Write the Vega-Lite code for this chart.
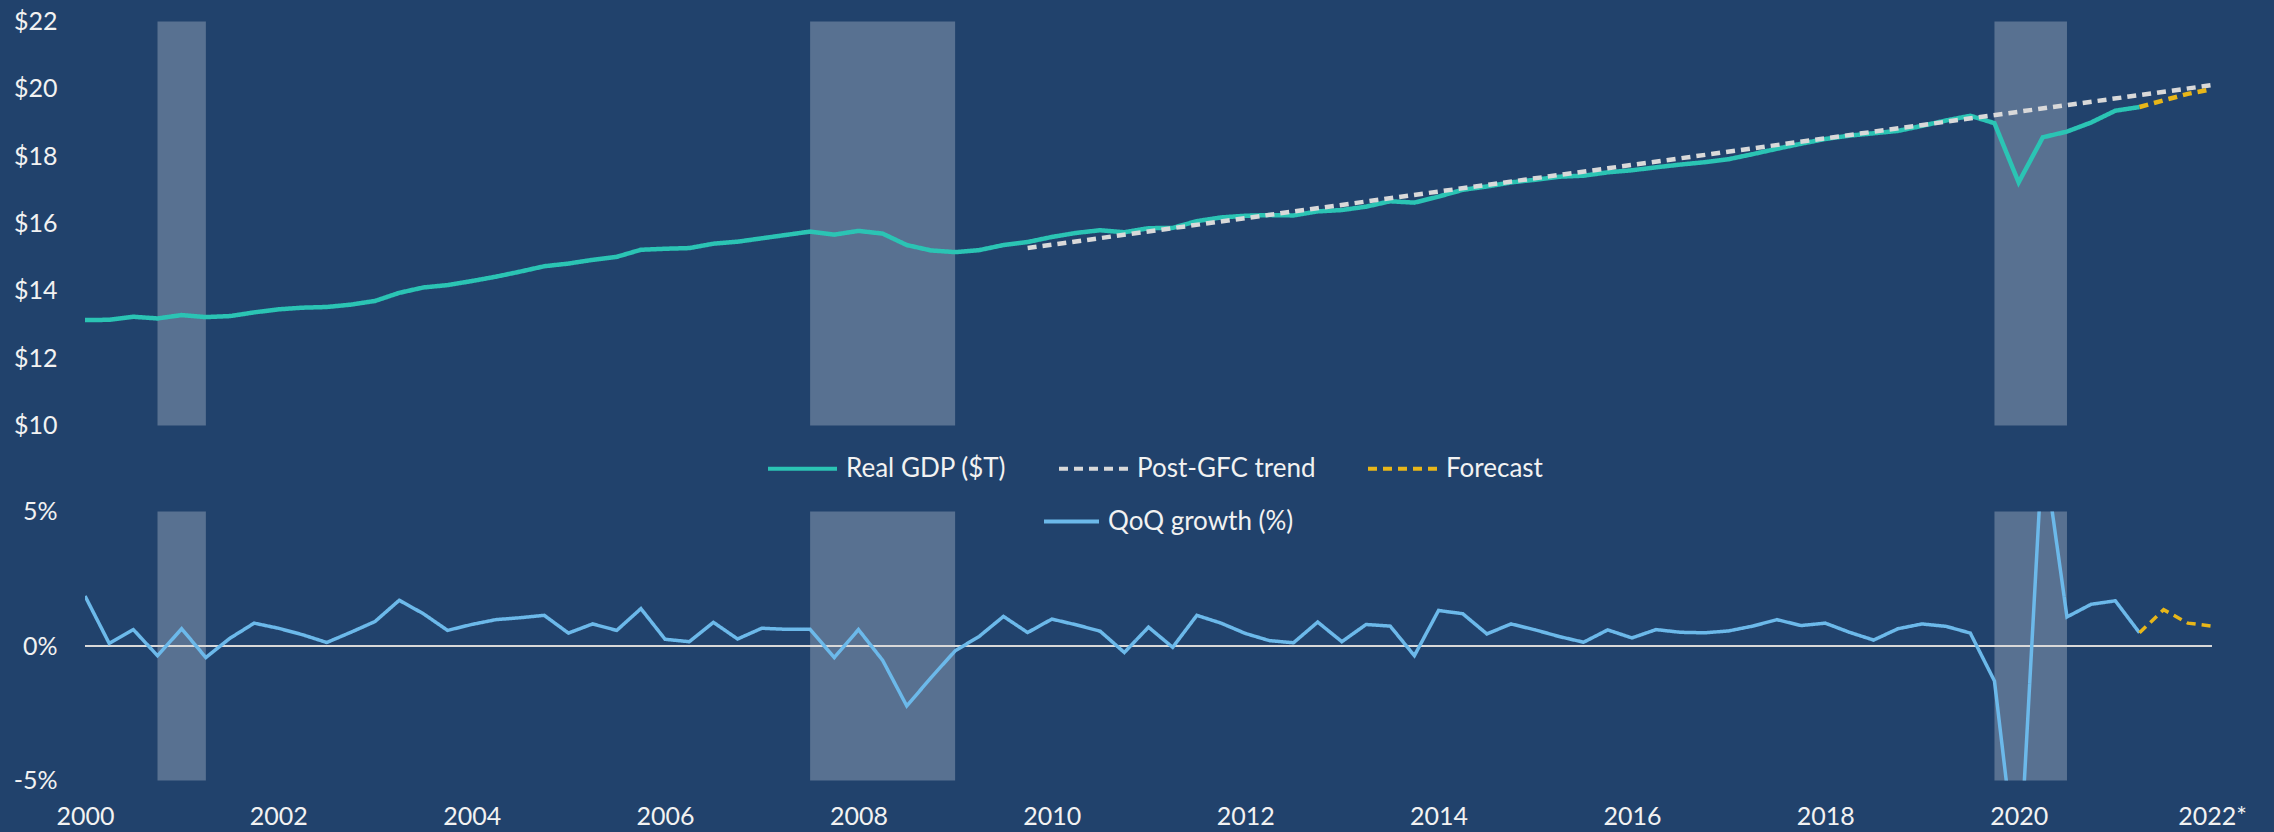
{
  "$schema": "https://vega.github.io/schema/vega-lite/v6.json",
  "background": "#21426C",
  "autosize": {"type": "pad"},
  "padding": {"left": 13, "top": 9.5, "right": 29, "bottom": 2},
  "config": {
    "view": {"stroke": null},
    "font": "Lato",
    "axis": {"domain": false, "ticks": false, "tickSize": 0, "grid": false, "labelFont": "Lato", "labelFontSize": 25, "labelColor": "#F2F2F2", "title": null},
    "legend": {"padding": 0, "labelFont": "Lato", "labelFontSize": 26, "labelColor": "#F2F2F2", "labelLimit": 0, "symbolType": "stroke", "symbolStrokeWidth": 4, "labelOffset": 7, "columnPadding": 44}
  },
  "datasets": {
    "rec": [
      {"start": 2000.75, "end": 2001.25},
      {"start": 2007.5, "end": 2009.0},
      {"start": 2019.75, "end": 2020.5}
    ],
    "gdp": [
      {"t": 2000, "v": 13.13, "s": "Real GDP ($T)"},
      {"t": 2000.25, "v": 13.14, "s": "Real GDP ($T)"},
      {"t": 2000.5, "v": 13.23, "s": "Real GDP ($T)"},
      {"t": 2000.75, "v": 13.18, "s": "Real GDP ($T)"},
      {"t": 2001, "v": 13.28, "s": "Real GDP ($T)"},
      {"t": 2001.25, "v": 13.22, "s": "Real GDP ($T)"},
      {"t": 2001.5, "v": 13.25, "s": "Real GDP ($T)"},
      {"t": 2001.75, "v": 13.36, "s": "Real GDP ($T)"},
      {"t": 2002, "v": 13.45, "s": "Real GDP ($T)"},
      {"t": 2002.25, "v": 13.50, "s": "Real GDP ($T)"},
      {"t": 2002.5, "v": 13.52, "s": "Real GDP ($T)"},
      {"t": 2002.75, "v": 13.59, "s": "Real GDP ($T)"},
      {"t": 2003, "v": 13.70, "s": "Real GDP ($T)"},
      {"t": 2003.25, "v": 13.94, "s": "Real GDP ($T)"},
      {"t": 2003.5, "v": 14.10, "s": "Real GDP ($T)"},
      {"t": 2003.75, "v": 14.17, "s": "Real GDP ($T)"},
      {"t": 2004, "v": 14.29, "s": "Real GDP ($T)"},
      {"t": 2004.25, "v": 14.42, "s": "Real GDP ($T)"},
      {"t": 2004.5, "v": 14.57, "s": "Real GDP ($T)"},
      {"t": 2004.75, "v": 14.73, "s": "Real GDP ($T)"},
      {"t": 2005, "v": 14.81, "s": "Real GDP ($T)"},
      {"t": 2005.25, "v": 14.92, "s": "Real GDP ($T)"},
      {"t": 2005.5, "v": 15.01, "s": "Real GDP ($T)"},
      {"t": 2005.75, "v": 15.22, "s": "Real GDP ($T)"},
      {"t": 2006, "v": 15.25, "s": "Real GDP ($T)"},
      {"t": 2006.25, "v": 15.27, "s": "Real GDP ($T)"},
      {"t": 2006.5, "v": 15.40, "s": "Real GDP ($T)"},
      {"t": 2006.75, "v": 15.46, "s": "Real GDP ($T)"},
      {"t": 2007, "v": 15.56, "s": "Real GDP ($T)"},
      {"t": 2007.25, "v": 15.66, "s": "Real GDP ($T)"},
      {"t": 2007.5, "v": 15.76, "s": "Real GDP ($T)"},
      {"t": 2007.75, "v": 15.67, "s": "Real GDP ($T)"},
      {"t": 2008, "v": 15.78, "s": "Real GDP ($T)"},
      {"t": 2008.25, "v": 15.70, "s": "Real GDP ($T)"},
      {"t": 2008.5, "v": 15.36, "s": "Real GDP ($T)"},
      {"t": 2008.75, "v": 15.20, "s": "Real GDP ($T)"},
      {"t": 2009, "v": 15.15, "s": "Real GDP ($T)"},
      {"t": 2009.25, "v": 15.21, "s": "Real GDP ($T)"},
      {"t": 2009.5, "v": 15.36, "s": "Real GDP ($T)"},
      {"t": 2009.75, "v": 15.45, "s": "Real GDP ($T)"},
      {"t": 2010, "v": 15.60, "s": "Real GDP ($T)"},
      {"t": 2010.25, "v": 15.72, "s": "Real GDP ($T)"},
      {"t": 2010.5, "v": 15.80, "s": "Real GDP ($T)"},
      {"t": 2010.75, "v": 15.74, "s": "Real GDP ($T)"},
      {"t": 2011, "v": 15.86, "s": "Real GDP ($T)"},
      {"t": 2011.25, "v": 15.87, "s": "Real GDP ($T)"},
      {"t": 2011.5, "v": 16.07, "s": "Real GDP ($T)"},
      {"t": 2011.75, "v": 16.18, "s": "Real GDP ($T)"},
      {"t": 2012, "v": 16.23, "s": "Real GDP ($T)"},
      {"t": 2012.25, "v": 16.25, "s": "Real GDP ($T)"},
      {"t": 2012.5, "v": 16.24, "s": "Real GDP ($T)"},
      {"t": 2012.75, "v": 16.36, "s": "Real GDP ($T)"},
      {"t": 2013, "v": 16.40, "s": "Real GDP ($T)"},
      {"t": 2013.25, "v": 16.50, "s": "Real GDP ($T)"},
      {"t": 2013.5, "v": 16.66, "s": "Real GDP ($T)"},
      {"t": 2013.75, "v": 16.62, "s": "Real GDP ($T)"},
      {"t": 2014, "v": 16.80, "s": "Real GDP ($T)"},
      {"t": 2014.25, "v": 17.00, "s": "Real GDP ($T)"},
      {"t": 2014.5, "v": 17.10, "s": "Real GDP ($T)"},
      {"t": 2014.75, "v": 17.22, "s": "Real GDP ($T)"},
      {"t": 2015, "v": 17.30, "s": "Real GDP ($T)"},
      {"t": 2015.25, "v": 17.39, "s": "Real GDP ($T)"},
      {"t": 2015.5, "v": 17.42, "s": "Real GDP ($T)"},
      {"t": 2015.75, "v": 17.52, "s": "Real GDP ($T)"},
      {"t": 2016, "v": 17.58, "s": "Real GDP ($T)"},
      {"t": 2016.25, "v": 17.67, "s": "Real GDP ($T)"},
      {"t": 2016.5, "v": 17.75, "s": "Real GDP ($T)"},
      {"t": 2016.75, "v": 17.82, "s": "Real GDP ($T)"},
      {"t": 2017, "v": 17.91, "s": "Real GDP ($T)"},
      {"t": 2017.25, "v": 18.06, "s": "Real GDP ($T)"},
      {"t": 2017.5, "v": 18.22, "s": "Real GDP ($T)"},
      {"t": 2017.75, "v": 18.37, "s": "Real GDP ($T)"},
      {"t": 2018, "v": 18.51, "s": "Real GDP ($T)"},
      {"t": 2018.25, "v": 18.61, "s": "Real GDP ($T)"},
      {"t": 2018.5, "v": 18.68, "s": "Real GDP ($T)"},
      {"t": 2018.75, "v": 18.75, "s": "Real GDP ($T)"},
      {"t": 2019, "v": 18.90, "s": "Real GDP ($T)"},
      {"t": 2019.25, "v": 19.06, "s": "Real GDP ($T)"},
      {"t": 2019.5, "v": 19.20, "s": "Real GDP ($T)"},
      {"t": 2019.75, "v": 18.98, "s": "Real GDP ($T)"},
      {"t": 2020, "v": 17.22, "s": "Real GDP ($T)"},
      {"t": 2020.25, "v": 18.56, "s": "Real GDP ($T)"},
      {"t": 2020.5, "v": 18.73, "s": "Real GDP ($T)"},
      {"t": 2020.75, "v": 19.00, "s": "Real GDP ($T)"},
      {"t": 2021, "v": 19.35, "s": "Real GDP ($T)"},
      {"t": 2021.25, "v": 19.46, "s": "Real GDP ($T)"},
      {"t": 2009.75, "v": 15.27, "s": "Post-GFC trend"},
      {"t": 2015.75, "v": 17.64, "s": "Post-GFC trend"},
      {"t": 2022, "v": 20.11, "s": "Post-GFC trend"},
      {"t": 2021.25, "v": 19.46, "s": "Forecast"},
      {"t": 2021.5, "v": 19.66, "s": "Forecast"},
      {"t": 2021.75, "v": 19.85, "s": "Forecast"},
      {"t": 2022, "v": 19.99, "s": "Forecast"}
    ],
    "growth": [
      {"t": 2000, "v": 1.86, "s": "QoQ growth (%)"},
      {"t": 2000.25, "v": 0.10, "s": "QoQ growth (%)"},
      {"t": 2000.5, "v": 0.61, "s": "QoQ growth (%)"},
      {"t": 2000.75, "v": -0.36, "s": "QoQ growth (%)"},
      {"t": 2001, "v": 0.64, "s": "QoQ growth (%)"},
      {"t": 2001.25, "v": -0.43, "s": "QoQ growth (%)"},
      {"t": 2001.5, "v": 0.29, "s": "QoQ growth (%)"},
      {"t": 2001.75, "v": 0.85, "s": "QoQ growth (%)"},
      {"t": 2002, "v": 0.66, "s": "QoQ growth (%)"},
      {"t": 2002.25, "v": 0.42, "s": "QoQ growth (%)"},
      {"t": 2002.5, "v": 0.13, "s": "QoQ growth (%)"},
      {"t": 2002.75, "v": 0.51, "s": "QoQ growth (%)"},
      {"t": 2003, "v": 0.91, "s": "QoQ growth (%)"},
      {"t": 2003.25, "v": 1.70, "s": "QoQ growth (%)"},
      {"t": 2003.5, "v": 1.20, "s": "QoQ growth (%)"},
      {"t": 2003.75, "v": 0.58, "s": "QoQ growth (%)"},
      {"t": 2004, "v": 0.80, "s": "QoQ growth (%)"},
      {"t": 2004.25, "v": 0.98, "s": "QoQ growth (%)"},
      {"t": 2004.5, "v": 1.05, "s": "QoQ growth (%)"},
      {"t": 2004.75, "v": 1.14, "s": "QoQ growth (%)"},
      {"t": 2005, "v": 0.48, "s": "QoQ growth (%)"},
      {"t": 2005.25, "v": 0.82, "s": "QoQ growth (%)"},
      {"t": 2005.5, "v": 0.58, "s": "QoQ growth (%)"},
      {"t": 2005.75, "v": 1.39, "s": "QoQ growth (%)"},
      {"t": 2006, "v": 0.25, "s": "QoQ growth (%)"},
      {"t": 2006.25, "v": 0.16, "s": "QoQ growth (%)"},
      {"t": 2006.5, "v": 0.88, "s": "QoQ growth (%)"},
      {"t": 2006.75, "v": 0.26, "s": "QoQ growth (%)"},
      {"t": 2007, "v": 0.66, "s": "QoQ growth (%)"},
      {"t": 2007.25, "v": 0.62, "s": "QoQ growth (%)"},
      {"t": 2007.5, "v": 0.62, "s": "QoQ growth (%)"},
      {"t": 2007.75, "v": -0.43, "s": "QoQ growth (%)"},
      {"t": 2008, "v": 0.61, "s": "QoQ growth (%)"},
      {"t": 2008.25, "v": -0.53, "s": "QoQ growth (%)"},
      {"t": 2008.5, "v": -2.23, "s": "QoQ growth (%)"},
      {"t": 2008.75, "v": -1.18, "s": "QoQ growth (%)"},
      {"t": 2009, "v": -0.18, "s": "QoQ growth (%)"},
      {"t": 2009.25, "v": 0.36, "s": "QoQ growth (%)"},
      {"t": 2009.5, "v": 1.10, "s": "QoQ growth (%)"},
      {"t": 2009.75, "v": 0.50, "s": "QoQ growth (%)"},
      {"t": 2010, "v": 1.00, "s": "QoQ growth (%)"},
      {"t": 2010.25, "v": 0.79, "s": "QoQ growth (%)"},
      {"t": 2010.5, "v": 0.55, "s": "QoQ growth (%)"},
      {"t": 2010.75, "v": -0.24, "s": "QoQ growth (%)"},
      {"t": 2011, "v": 0.70, "s": "QoQ growth (%)"},
      {"t": 2011.25, "v": -0.05, "s": "QoQ growth (%)"},
      {"t": 2011.5, "v": 1.14, "s": "QoQ growth (%)"},
      {"t": 2011.75, "v": 0.85, "s": "QoQ growth (%)"},
      {"t": 2012, "v": 0.47, "s": "QoQ growth (%)"},
      {"t": 2012.25, "v": 0.20, "s": "QoQ growth (%)"},
      {"t": 2012.5, "v": 0.12, "s": "QoQ growth (%)"},
      {"t": 2012.75, "v": 0.89, "s": "QoQ growth (%)"},
      {"t": 2013, "v": 0.16, "s": "QoQ growth (%)"},
      {"t": 2013.25, "v": 0.80, "s": "QoQ growth (%)"},
      {"t": 2013.5, "v": 0.74, "s": "QoQ growth (%)"},
      {"t": 2013.75, "v": -0.36, "s": "QoQ growth (%)"},
      {"t": 2014, "v": 1.32, "s": "QoQ growth (%)"},
      {"t": 2014.25, "v": 1.20, "s": "QoQ growth (%)"},
      {"t": 2014.5, "v": 0.45, "s": "QoQ growth (%)"},
      {"t": 2014.75, "v": 0.82, "s": "QoQ growth (%)"},
      {"t": 2015, "v": 0.60, "s": "QoQ growth (%)"},
      {"t": 2015.25, "v": 0.35, "s": "QoQ growth (%)"},
      {"t": 2015.5, "v": 0.14, "s": "QoQ growth (%)"},
      {"t": 2015.75, "v": 0.60, "s": "QoQ growth (%)"},
      {"t": 2016, "v": 0.30, "s": "QoQ growth (%)"},
      {"t": 2016.25, "v": 0.61, "s": "QoQ growth (%)"},
      {"t": 2016.5, "v": 0.51, "s": "QoQ growth (%)"},
      {"t": 2016.75, "v": 0.49, "s": "QoQ growth (%)"},
      {"t": 2017, "v": 0.56, "s": "QoQ growth (%)"},
      {"t": 2017.25, "v": 0.74, "s": "QoQ growth (%)"},
      {"t": 2017.5, "v": 0.98, "s": "QoQ growth (%)"},
      {"t": 2017.75, "v": 0.76, "s": "QoQ growth (%)"},
      {"t": 2018, "v": 0.85, "s": "QoQ growth (%)"},
      {"t": 2018.25, "v": 0.51, "s": "QoQ growth (%)"},
      {"t": 2018.5, "v": 0.22, "s": "QoQ growth (%)"},
      {"t": 2018.75, "v": 0.64, "s": "QoQ growth (%)"},
      {"t": 2019, "v": 0.82, "s": "QoQ growth (%)"},
      {"t": 2019.25, "v": 0.73, "s": "QoQ growth (%)"},
      {"t": 2019.5, "v": 0.48, "s": "QoQ growth (%)"},
      {"t": 2019.75, "v": -1.30, "s": "QoQ growth (%)"},
      {"t": 2020, "v": -8.9, "s": "QoQ growth (%)"},
      {"t": 2020.25, "v": 7.5, "s": "QoQ growth (%)"},
      {"t": 2020.5, "v": 1.08, "s": "QoQ growth (%)"},
      {"t": 2020.75, "v": 1.55, "s": "QoQ growth (%)"},
      {"t": 2021, "v": 1.68, "s": "QoQ growth (%)"},
      {"t": 2021.25, "v": 0.49, "s": "QoQ growth (%)"},
      {"t": 2021.25, "v": 0.49, "s": "Forecast"},
      {"t": 2021.5, "v": 1.35, "s": "Forecast"},
      {"t": 2021.75, "v": 0.85, "s": "Forecast"},
      {"t": 2022, "v": 0.74, "s": "Forecast"}
    ]
  },
  "spacing": 86,
  "bounds": "flush",
  "resolve": {
    "scale": {"x": "independent", "y": "independent", "color": "independent", "strokeDash": "independent"},
    "legend": {"color": "independent", "strokeDash": "independent"}
  },
  "vconcat": [
    {
      "width": 2127,
      "height": 404,
      "layer": [
        {
          "data": {"name": "rec"},
          "mark": {"type": "rect", "color": "#FFFFFF", "opacity": 0.25},
          "encoding": {
            "x": {"field": "start", "type": "quantitative", "scale": {"domain": [2000, 2022], "nice": false, "zero": false}, "axis": null},
            "x2": {"field": "end"},
            "y": {"datum": 10, "type": "quantitative"},
            "y2": {"datum": 22}
          }
        },
        {
          "data": {"name": "gdp"},
          "mark": {"type": "line", "strokeWidth": 4.5, "clip": true},
          "encoding": {
            "x": {"field": "t", "type": "quantitative", "scale": {"domain": [2000, 2022], "nice": false, "zero": false}, "axis": null},
            "y": {
              "field": "v", "type": "quantitative",
              "scale": {"domain": [10, 22], "nice": false, "zero": false},
              "axis": {"values": [10, 12, 14, 16, 18, 20, 22], "labelExpr": "'$' + datum.value", "labelPadding": 28}
            },
            "color": {
              "field": "s", "type": "nominal",
              "scale": {"domain": ["Real GDP ($T)", "Post-GFC trend", "Forecast"], "range": ["#2BC4B4", "#D9D9D9", "#E8B619"]},
              "legend": {"title": null, "orient": "none", "direction": "horizontal", "legendX": 681, "legendY": 410.5, "symbolSize": 4761}
            },
            "strokeDash": {
              "field": "s", "type": "nominal",
              "scale": {"domain": ["Real GDP ($T)", "Post-GFC trend", "Forecast"], "range": [[1, 0], [9, 6], [9, 6]]},
              "legend": {"title": null, "orient": "none", "direction": "horizontal", "legendX": 681, "legendY": 410.5, "symbolSize": 4761}
            }
          }
        }
      ]
    },
    {
      "width": 2127,
      "height": 269,
      "layer": [
        {
          "data": {"name": "rec"},
          "mark": {"type": "rect", "color": "#FFFFFF", "opacity": 0.25},
          "encoding": {
            "x": {"field": "start", "type": "quantitative", "scale": {"domain": [2000, 2022], "nice": false, "zero": false}},
            "x2": {"field": "end"},
            "y": {"datum": -5, "type": "quantitative"},
            "y2": {"datum": 5}
          }
        },
        {
          "data": {"name": "growth"},
          "mark": {"type": "rule", "color": "#D9D9D9", "strokeWidth": 2},
          "encoding": {"y": {"datum": 0, "type": "quantitative"}}
        },
        {
          "data": {"name": "growth"},
          "mark": {"type": "line", "strokeWidth": 3.5, "clip": true},
          "encoding": {
            "x": {
              "field": "t", "type": "quantitative",
              "scale": {"domain": [2000, 2022], "nice": false, "zero": false},
              "axis": {"values": [2000, 2002, 2004, 2006, 2008, 2010, 2012, 2014, 2016, 2018, 2020, 2022], "format": "d", "labelExpr": "datum.value == 2022 ? '2022*' : datum.label", "labelFlush": false, "labelOverlap": false, "labelPadding": 24}
            },
            "y": {
              "field": "v", "type": "quantitative",
              "scale": {"domain": [-5, 5], "nice": false, "zero": false},
              "axis": {"values": [-5, 0, 5], "labelExpr": "datum.value + '%'", "labelPadding": 28}
            },
            "color": {
              "field": "s", "type": "nominal",
              "scale": {"domain": ["QoQ growth (%)", "Forecast"], "range": ["#6CB9EA", "#E8B619"]},
              "legend": {"title": null, "values": ["QoQ growth (%)"], "orient": "none", "direction": "horizontal", "legendX": 957, "legendY": -19.5, "symbolSize": 3025}
            },
            "strokeDash": {
              "field": "s", "type": "nominal",
              "scale": {"domain": ["QoQ growth (%)", "Forecast"], "range": [[1, 0], [9, 6]]},
              "legend": {"title": null, "values": ["QoQ growth (%)"], "orient": "none", "direction": "horizontal", "legendX": 957, "legendY": -19.5, "symbolSize": 3025}
            }
          }
        }
      ]
    }
  ]
}
